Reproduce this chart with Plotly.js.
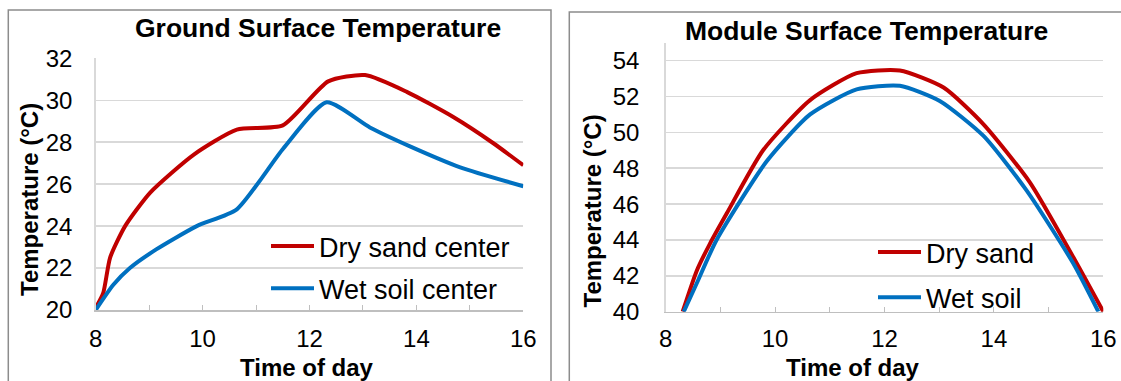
<!DOCTYPE html>
<html>
<head>
<meta charset="utf-8">
<script src="https://cdn.plot.ly/plotly-3.0.1.min.js"></script>
<style>
  html, body { margin: 0; padding: 0; background: #fff; }
  #chart { width: 1121px; height: 381px; }
</style>
</head>
<body>
<div id="chart"></div>
<script>
// ---- Data ----
// Ground surface temperature (left panel)
const groundDryTime = [8, 8.14, 8.27, 8.55, 9.02, 9.83, 10.64, 11.5, 12.35, 13.04, 13.82, 14.69, 15.44, 16];
const groundDryTemp = [20.1, 20.8, 22.5, 24.0, 25.6, 27.4, 28.6, 28.8, 30.9, 31.2, 30.4, 29.2, 27.95, 26.9];
const groundWetTime = [8, 8.33, 8.64, 9.14, 9.89, 10.64, 11.51, 12.32, 13.13, 13.88, 14.82, 16];
const groundWetTemp = [20.0, 21.2, 22.0, 22.9, 24.0, 24.8, 27.7, 29.9, 28.7, 27.8, 26.8, 25.9];

// Module surface temperature (right panel)
const moduleDryTime = [8.31, 8.57, 8.81, 9.12, 9.78, 10.64, 11.49, 12.28, 13.08, 13.81, 14.66, 15.45, 16];
const moduleDryTemp = [40.0, 42.3, 43.8, 45.5, 49.0, 51.8, 53.3, 53.45, 52.5, 50.45, 47.2, 43.05, 40.0];
const moduleWetTime = [8.33, 8.57, 8.93, 9.85, 10.64, 11.49, 12.28, 13.01, 13.81, 14.6, 15.45, 15.91];
const moduleWetTemp = [40.0, 41.6, 44.0, 48.4, 51.0, 52.4, 52.6, 51.75, 49.8, 46.75, 42.7, 40.0];

const groundNames = ["Dry sand center", "Wet soil center"];
const moduleNames = ["Dry sand", "Wet soil"];
const panelTitles = ["Ground Surface Temperature", "Module Surface Temperature"];
const xTitle = "Time of day";
const yTitle = "Temperature (°C)";

// ---- Styling ----
const W = 1121, H = 381;
const RED = "#C00000", BLUE = "#0070C0";
const FONT = "Liberation Sans, Arial, sans-serif";
const px = v => v / W;
const py = v => (H - v) / H;

const lineStyle = c => ({ color: c, width: 4, shape: "spline", smoothing: 0.6 });

const traces = [
  { x: groundDryTime, y: groundDryTemp, name: groundNames[0], mode: "lines", line: lineStyle(RED),
    xaxis: "x", yaxis: "y", legend: "legend", legendgroup: "g1", hoverinfo: "x+y" },
  { x: groundWetTime, y: groundWetTemp, name: groundNames[1], mode: "lines", line: lineStyle(BLUE),
    xaxis: "x", yaxis: "y", legend: "legend", legendgroup: "g2", hoverinfo: "x+y" },
  { x: moduleDryTime, y: moduleDryTemp, name: moduleNames[0], mode: "lines", line: lineStyle(RED),
    xaxis: "x2", yaxis: "y2", legend: "legend2", legendgroup: "m1", hoverinfo: "x+y" },
  { x: moduleWetTime, y: moduleWetTemp, name: moduleNames[1], mode: "lines", line: lineStyle(BLUE),
    xaxis: "x2", yaxis: "y2", legend: "legend2", legendgroup: "m2", hoverinfo: "x+y" }
];

const tickFont = { family: FONT, size: 24, color: "#000" };

function xAxis(domain, anchor, standoff) {
  return {
    domain: domain, anchor: anchor, range: [8, 16], tick0: 8, dtick: 2,
    ticks: "inside", ticklen: 5, tickwidth: 1, tickcolor: "#bfbfbf",
    minor: { dtick: 1, ticks: "inside", ticklen: 5, tickwidth: 1, tickcolor: "#bfbfbf" },
    showline: true, linecolor: "#bfbfbf", linewidth: 1.5,
    showgrid: false, zeroline: false, tickfont: tickFont, ticklabelstandoff: standoff,
    fixedrange: true
  };
}
function yAxis(domain, anchor, range, standoff) {
  return {
    domain: domain, anchor: anchor, range: range, tick0: range[0], dtick: 2,
    ticks: "", showline: true, linecolor: "#d9d9d9", linewidth: 1.5,
    showgrid: true, gridcolor: "#d9d9d9", gridwidth: 1.5, zeroline: false,
    tickfont: tickFont, ticklabelstandoff: standoff, fixedrange: true
  };
}

const boldFont = (size) => ({ family: FONT, size: size, color: "#000", weight: "bold" });

const annotations = [
  { text: panelTitles[0], x: px(317.5), y: py(28.5), font: boldFont(26.5) },
  { text: panelTitles[1], x: px(866.7), y: py(31), font: boldFont(26.5) },
  { text: yTitle, x: px(29), y: py(200), textangle: -90, font: boldFont(24) },
  { text: yTitle, x: px(592), y: py(211.5), textangle: -90, font: boldFont(24) },
  { text: xTitle, x: px(307), y: py(367), font: boldFont(24) },
  { text: xTitle, x: px(853), y: py(367), font: boldFont(24) }
].map(a => Object.assign({ xref: "paper", yref: "paper", xanchor: "center", yanchor: "middle",
                           showarrow: false }, a));

const layout = {
  width: W, height: H, autosize: false,
  margin: { l: 0, r: 0, t: 0, b: 0, pad: 0 },
  paper_bgcolor: "#fff", plot_bgcolor: "rgba(0,0,0,0)",
  font: { family: FONT, color: "#000" },
  xaxis: xAxis([px(95.7), px(523.3)], "y", 7),
  yaxis: yAxis([py(310), py(58.3)], "x", [20, 32], 17),
  xaxis2: xAxis([px(665.7), px(1103.3)], "y2", 5),
  yaxis2: yAxis([py(311.7), py(42.7)], "x2", [40, 55], 20),
  legend: {
    x: px(266), y: py(222), xanchor: "left", yanchor: "top",
    bgcolor: "rgba(0,0,0,0)", borderwidth: 0, traceorder: "grouped", tracegroupgap: 4,
    font: { family: FONT, size: 27, color: "#000" }, itemwidth: 43
  },
  legend2: {
    x: px(873), y: py(228), xanchor: "left", yanchor: "top",
    bgcolor: "rgba(0,0,0,0)", borderwidth: 0, traceorder: "grouped", tracegroupgap: 7,
    font: { family: FONT, size: 27, color: "#000" }, itemwidth: 43
  },
  showlegend: true,
  annotations: annotations,
  shapes: [
    { type: "rect", xref: "paper", yref: "paper", layer: "below",
      x0: px(8.3), x1: px(551), y0: -0.1, y1: py(10), line: { color: "#8c8c8c", width: 1.5 } },
    { type: "rect", xref: "paper", yref: "paper", layer: "below",
      x0: px(569.3), x1: 1.1, y0: -0.1, y1: py(12), line: { color: "#8c8c8c", width: 1.5 } }
  ]
};

Plotly.newPlot("chart", traces, layout, { displayModeBar: false, staticPlot: true });
</script>
</body>
</html>
